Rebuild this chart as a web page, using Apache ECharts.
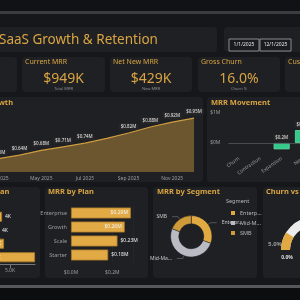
<!DOCTYPE html>
<html><head><meta charset="utf-8">
<script src="https://cdn.jsdelivr.net/npm/echarts@6/dist/echarts.min.js"></script>
<style>html,body{margin:0;padding:0;background:#15161a}#c{width:300px;height:300px}</style>
</head><body><div id="c"></div>
<script>
// ---------------- data ----------------
const dashTitle = 'SaaS Growth & Retention';
const dateRange = ['1/1/2025', '12/1/2025'];
const kpiLabels = ['ARR', 'Current MRR', 'Net New MRR', 'Gross Churn', 'Customers'];
const kpiValues = ['$11.4M', '$949K', '$429K', '16.0%', '1,240'];
const kpiSubs = ['Annualized', 'Total MRR', 'New MRR', 'Churn %', 'Active'];
const chartTitles = ['MRR Growth', 'MRR Movement', 'Customers by Plan', 'MRR by Plan', 'MRR by Segment', 'Churn vs Target'];
const months = ['Jan 2025','Feb 2025','Mar 2025','Apr 2025','May 2025','Jun 2025','Jul 2025','Aug 2025','Sep 2025','Oct 2025','Nov 2025','Dec 2025'];
const mrrValues = [0.54, 0.575, 0.61, 0.64, 0.68, 0.71, 0.74, 0.78, 0.825, 0.875, 0.915, 0.949];
const movementCats = ['Churn', 'Contraction', 'Expansion', 'New'];
const movementValues = [-0.12, -0.09, 0.21, 0.43];
const custCats = ['Enterprise', 'Growth', 'Scale', 'Starter'];
const custValues = [4.2, 3.9, 4.4, 7.5];
const custTicks = [0, 7.5, 2.5];   // min, max, interval
const planCats = ['Enterprise', 'Growth', 'Scale', 'Starter'];
const planValues = [0.29, 0.26, 0.225, 0.18];
const segmentNames = ['Enterprise', 'Mid-Market', 'SMB'];
const segmentValues = [0.29, 0.48, 0.18];
const churnActual = 16.0;
const churnTarget = 5.0;
const churnMax = 90;

// ---------------- styles ----------------
const GOLD = '#d9a441';
const BAR = '#e2aa45';
const CARD = '#1f2024';
const FONT = 'Noto Sans';
const LBL = '#9c9c9c';

// waterfall pieces
let cum = 0;
const wfBase = [], wfPos = [], wfNeg = [];
movementValues.forEach(v => {
  const s = cum; cum += v;
  wfBase.push(Math.min(s, cum));
  wfPos.push(v > 0 ? v : '-');
  wfNeg.push(v < 0 ? -v : '-');
});

// ---------------- layout graphics ----------------
const cards = [
  [-10, 27, 227, 25], [224, 27, 95, 25],
  [-66, 57, 83, 35], [22, 57, 83, 35], [110, 57, 82, 35], [198, 57, 82, 35], [285, 57, 83, 35],
  [-60, 97, 263, 85], [207, 97, 110, 85],
  [-63, 187, 103, 91], [45, 187, 103, 91], [153, 187, 104, 91], [263, 187, 104, 91]
];
const g = [];
g.push({type:'rect', shape:{x:0,y:0,width:300,height:11}, style:{fill:'#111215'}, z:0});
g.push({type:'rect', shape:{x:0,y:11,width:300,height:3}, style:{fill:'#3c3d41'}, z:0});
g.push({type:'rect', shape:{x:0,y:285,width:300,height:3}, style:{fill:'#56575b'}, z:0});
g.push({type:'rect', shape:{x:0,y:288,width:300,height:12}, style:{fill:'#0c0d0f'}, z:0});
cards.forEach(c => g.push({type:'rect', shape:{x:c[0],y:c[1],width:c[2],height:c[3],r:4}, style:{fill:CARD}, z:0}));
g.push({type:'text', x:-1, y:40, style:{text:dashTitle, fill:GOLD, font:'13.5px "Noto Sans"', textVerticalAlign:'middle'}, z:10});
[[229,39,30,12],[260,39,31,12]].forEach((b,i) => {
  g.push({type:'rect', shape:{x:b[0],y:b[1],width:b[2],height:b[3]}, style:{fill:'#1a1b1e', stroke:'#8a8b8e', lineWidth:1}, z:5});
  g.push({type:'text', x:b[0]+b[2]/2, y:b[1]+b[3]/2, style:{text:dateRange[i], fill:'#e6e6e6', font:'5px "Noto Sans"', textAlign:'center', textVerticalAlign:'middle'}, z:10});
});
const kpiCards = cards.slice(2, 7);
kpiCards.forEach((c, i) => {
  const cx = c[0] + c[2] / 2;
  g.push({type:'text', x:c[0]+3, y:62, style:{text:kpiLabels[i], fill:GOLD, font:'7px "Noto Sans"', textVerticalAlign:'middle'}, z:10});
  g.push({type:'text', x:cx, y:79, style:{text:kpiValues[i], fill:GOLD, font:'14px "Noto Sans"', textAlign:'center', textVerticalAlign:'middle'}, z:10});
  g.push({type:'text', x:cx, y:89, style:{text:kpiSubs[i], fill:'#8c8c8c', font:'4px "Noto Sans"', textAlign:'center', textVerticalAlign:'middle'}, z:10});
});
const titlePos = [[13,103,'right'],[211,103,'left'],[-60,192,'left'],[48,192,'left'],[157,192,'left'],[266,192,'left']];
titlePos.forEach((p,i) => g.push({type:'text', x:p[0], y:p[1], style:{text:chartTitles[i], fill:GOLD, font:'bold 7.5px "Noto Sans"', textAlign:p[2], textVerticalAlign:'middle'}, z:10}));
g.push({type:'text', x:226, y:201, style:{text:'Segment', fill:'#b8b8b8', font:'5.5px "Noto Sans"', textVerticalAlign:'middle'}, z:10});

const money1 = v => (v < 0 ? '-$' : '$') + Math.abs(v).toFixed(1) + 'M';
const money2 = v => '$' + v.toFixed(2) + 'M';

const option = {
  backgroundColor: '#16171a',
  animation: false,
  textStyle: {fontFamily: FONT},
  graphic: g,
  grid: [
    {left: -46, right: 106, top: 112, bottom: 128, outerBoundsMode: 'none', containLabel: false},
    {left: 228.4, right: -13.6, top: 113, bottom: 145, outerBoundsMode: 'none', containLabel: false},
    {left: -40, right: 265, top: 210, bottom: 36, outerBoundsMode: 'none', containLabel: false},
    {left: 71, right: 167, top: 206, bottom: 38, outerBoundsMode: 'none', containLabel: false}
  ],
  xAxis: [
    {gridIndex:0, type:'category', data: months, boundaryGap:false,
     axisLine:{show:false}, axisTick:{show:false},
     axisLabel:{interval:1, fontSize:5, color:LBL, margin:4}},
    {gridIndex:1, type:'category', data: movementCats, axisLine:{show:false}, axisTick:{show:false},
     axisLabel:{rotate:35, fontSize:5, color:LBL, margin:3, interval:0}},
    {gridIndex:2, type:'value', min:custTicks[0], max:custTicks[1], interval:custTicks[2],
     axisLine:{show:true, lineStyle:{color:'#777'}},
     axisTick:{show:true, length:4, lineStyle:{color:'#777'}}, splitLine:{show:false},
     axisLabel:{fontSize:5, color:LBL, showMaxLabel:false, margin:4, formatter: v => v.toFixed(1) + 'K'}},
    {gridIndex:3, type:'value', min:0, max:0.3, interval:0.2, axisLine:{show:false}, axisTick:{show:false},
     splitLine:{show:true, lineStyle:{color:'#2c2d31', width:0.5}},
     axisLabel:{fontSize:5, color:LBL, showMaxLabel:false, formatter: v => '$' + v.toFixed(1) + 'M'}}
  ],
  yAxis: [
    {gridIndex:0, type:'value', min:0.5, max:1.0, show:false},
    {gridIndex:1, type:'value', min:-0.4, max:1, axisLine:{show:false}, axisTick:{show:false},
     splitLine:{show:false},
     axisLabel:{fontSize:5, color:LBL, margin:8, formatter: v => Number.isInteger(v) ? '$' + v + 'M' : ''}},
    {gridIndex:2, type:'category', data: custCats, inverse:true, axisLine:{show:false}, axisTick:{show:false},
     axisLabel:{fontSize:5, color:LBL}},
    {gridIndex:3, type:'category', data: planCats, inverse:true, axisLine:{show:false}, axisTick:{show:false},
     axisLabel:{fontSize:5.5, color:LBL, margin:4}}
  ],
  legend: {
    data: segmentNames, orient:'vertical', left:226, top:205, itemWidth:4, itemHeight:4, itemGap:4,
    icon:'rect', textStyle:{fontSize:5.5, color:'#b8b8b8', width:24, overflow:'truncate', ellipsis:'...'},
    itemStyle:{borderWidth:0}
  },
  series: [
    {type:'line', xAxisIndex:0, yAxisIndex:0, data: mrrValues.map((v,i) => i === 7 ? {value:v, label:{show:false}} : v),
     symbol:'circle', symbolSize:0.1, showSymbol:true, itemStyle:{color:'#cf9d3f'},
     lineStyle:{color:'#cf9d3f', width:1.2},
     areaStyle:{color:'#6b5630', opacity:1},
     label:{show:true, position:'top', distance:3, fontSize:4.5, color:'#e8e8e8',
            backgroundColor:'rgba(38,38,40,0.95)', padding:[1,2], borderRadius:1, formatter: p => money2(p.value)}},
    {type:'bar', xAxisIndex:1, yAxisIndex:1, stack:'wf', stackStrategy:'all', data: wfBase, barWidth:16,
     itemStyle:{color:'transparent'}, silent:true},
    {type:'bar', xAxisIndex:1, yAxisIndex:1, stack:'wf', stackStrategy:'all', data: wfPos, barWidth:16,
     itemStyle:{color:'#35c98a', borderColor:'#5fe0a8', borderWidth:0.8},
     label:{show:true, position:'top', distance:2, fontSize:4.5, color:'#e8e8e8',
            backgroundColor:'rgba(38,38,40,0.95)', padding:[1,2], formatter: p => money1(p.value)},
     markLine:{silent:true, symbol:'none', label:{show:false}, lineStyle:{color:'#55565a', width:0.8, type:'solid'}, data:[{yAxis:0}]}},
    {type:'bar', xAxisIndex:1, yAxisIndex:1, stack:'wf', stackStrategy:'all', data: wfNeg, barWidth:16,
     itemStyle:{color:'#ef5b5b', borderColor:'#ff8a8a', borderWidth:0.8},
     label:{show:true, position:'bottom', distance:2, fontSize:4.5, color:'#e8e8e8',
            backgroundColor:'rgba(38,38,40,0.95)', padding:[1,2], formatter: p => money1(-p.value)}},
    {type:'bar', xAxisIndex:2, yAxisIndex:2, barWidth:10,
     data: custValues.map((v,i) => ({value:v, label:{position: i === 3 ? 'inside' : (i === 2 ? 'insideRight' : 'right')}})),
     itemStyle:{color:BAR, borderColor:'#b07f2a', borderWidth:0.8},
     label:{show:true, fontSize:5, color:'#f0f0f0', distance:3, formatter: p => Math.round(p.value) + 'K'}},
    {type:'bar', xAxisIndex:3, yAxisIndex:3, barWidth:11,
     data: planValues.map((v,i) => ({value:v, label:{position: i < 2 ? 'insideRight' : 'right'}})),
     itemStyle:{color:BAR, borderColor:'#a8792a', borderWidth:0.8},
     label:{show:true, fontSize:5, color:'#f2f2f2', distance:3, formatter: p => money2(p.value)}},
    {type:'pie', center:[191.3, 236.3], radius:[12.5, 20.7], startAngle:90,
     data: segmentNames.map((n,i) => ({name:n, value:segmentValues[i]})),
     color:['#e0a941', '#b9bcc2', '#cf9a38'],
     itemStyle:{borderColor:'#1f2024', borderWidth:0.5},
     label:{show:true, fontSize:5, color:'#c8c8c8', width:24, overflow:'truncate', ellipsis:'...'},
     labelLine:{show:true, length:3, length2:6, lineStyle:{color:'#777', width:0.6}}},
    {type:'gauge', center:[314, 250], radius:33, startAngle:180, endAngle:0, min:0, max:churnMax,
     progress:{show:true, width:9, itemStyle:{color:'#e0a941'}},
     axisLine:{lineStyle:{width:9, color:[[1, '#ececec']]}},
     pointer:{show:false}, axisTick:{show:false}, splitLine:{show:false}, axisLabel:{show:false}, anchor:{show:false},
     title:{show:false},
     detail:{show:true, offsetCenter:[-27, 8], fontSize:5, fontWeight:'bold', color:'#dcdcdc', formatter: () => (0).toFixed(1) + '%'},
     data:[{value: churnActual}]},
    {type:'gauge', center:[314, 250], radius:33, startAngle:180, endAngle:0, min:0, max:churnMax,
     axisLine:{show:false}, progress:{show:false},
     pointer:{show:true, icon:'rect', width:1, length:9, offsetCenter:[0, -24], itemStyle:{color:'#f5e3b8'}},
     axisTick:{show:false}, splitLine:{show:false}, axisLabel:{show:false}, anchor:{show:false},
     title:{show:false},
     detail:{show:true, offsetCenter:[-39, -6], fontSize:6, color:'#9a9a9a', formatter: v => v.toFixed(1) + '%'},
     data:[{value: churnTarget}]}
  ]
};
const chart = echarts.init(document.getElementById('c'));
chart.setOption(option);
</script></body></html>
